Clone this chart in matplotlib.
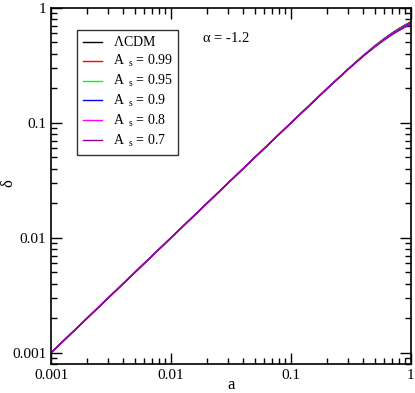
import matplotlib
matplotlib.use("Agg")
import matplotlib.pyplot as plt

plt.rcParams['font.family'] = ['Liberation Serif', 'DejaVu Serif']
plt.rcParams['mathtext.fontset'] = 'custom'
plt.rcParams['mathtext.rm'] = 'Liberation Serif'
plt.rcParams['mathtext.it'] = 'Liberation Serif'

a_vals = [0.001, 0.01, 0.05, 0.1, 0.2, 0.3, 0.4, 0.5, 0.6, 0.7, 0.8, 0.9, 1.0]
delta_lcdm = [0.001, 0.01, 0.0500, 0.0998, 0.1985, 0.2940, 0.3840, 0.4660, 0.5400, 0.6050, 0.6620, 0.7120, 0.7560]
delta_099 = [0.001, 0.01, 0.0500, 0.0998, 0.1985, 0.2938, 0.3835, 0.4650, 0.5385, 0.6030, 0.6595, 0.7085, 0.7520]
delta_095 = [0.001, 0.01, 0.0500, 0.0998, 0.1984, 0.2935, 0.3828, 0.4638, 0.5365, 0.6005, 0.6560, 0.7045, 0.7470]
delta_09 = [0.001, 0.01, 0.0500, 0.0998, 0.1983, 0.2930, 0.3818, 0.4620, 0.5340, 0.5970, 0.6515, 0.6990, 0.7400]
delta_08 = [0.001, 0.01, 0.0500, 0.0998, 0.1981, 0.2922, 0.3800, 0.4590, 0.5295, 0.5910, 0.6440, 0.6900, 0.7290]
delta_07 = [0.001, 0.01, 0.0500, 0.0997, 0.1979, 0.2914, 0.3782, 0.4560, 0.5250, 0.5850, 0.6365, 0.6810, 0.7180]

labels = [r'$\Lambda$CDM', r'A$_{\ \ s}$ = 0.99', r'A$_{\ \ s}$ = 0.95', r'A$_{\ \ s}$ = 0.9',
          r'A$_{\ \ s}$ = 0.8', r'A$_{\ \ s}$ = 0.7']
series = [delta_lcdm, delta_099, delta_095, delta_09, delta_08, delta_07]
colors = ['#000000', '#ff0000', '#00ff00', '#0000ff', '#ff00ff', '#990099']

fig = plt.figure(figsize=(4.15, 3.93), dpi=100)
ax = fig.add_axes([0.123, 0.074, 0.867, 0.906])
for s, c, l in zip(series, colors, labels):
    ax.plot(a_vals, s, color=c, lw=1.0, label=l)

ax.set_xscale('log')
ax.set_yscale('log')
ax.set_xlim(0.001, 1)
ax.set_ylim(0.0008, 1)
ax.set_xticks([0.001, 0.01, 0.1, 1])
ax.set_xticklabels(['0.001', '0.01', '0.1', '1'])
ax.set_yticks([0.001, 0.01, 0.1, 1])
ax.set_yticklabels(['0.001', '0.01', '0.1', '1'])
ax.tick_params(which='both', direction='in', top=True, right=True, labelsize=11)
ax.tick_params(which='major', length=8, width=1)
ax.tick_params(which='minor', length=4, width=1)
for sp in ax.spines.values():
    sp.set_linewidth(1.2)
ax.set_xlabel('a', fontsize=12)
ax.set_ylabel(r'$\delta$', fontsize=12)
ax.xaxis.set_label_coords(0.5, -0.036)
ax.yaxis.set_label_coords(-0.094, 0.508)

leg = ax.legend(loc='upper left', bbox_to_anchor=(0.072, 0.938), fontsize=10, frameon=True,
                fancybox=False, edgecolor='black', handlelength=1.4, handletextpad=0.8,
                labelspacing=0.28, borderpad=0.4, borderaxespad=0)
leg.get_frame().set_linewidth(1.0)
ax.text(0.42, 0.916, r'$\alpha$ = -1.2', transform=ax.transAxes, fontsize=10.5, va='center')

fig.savefig('out.png', dpi=100)
